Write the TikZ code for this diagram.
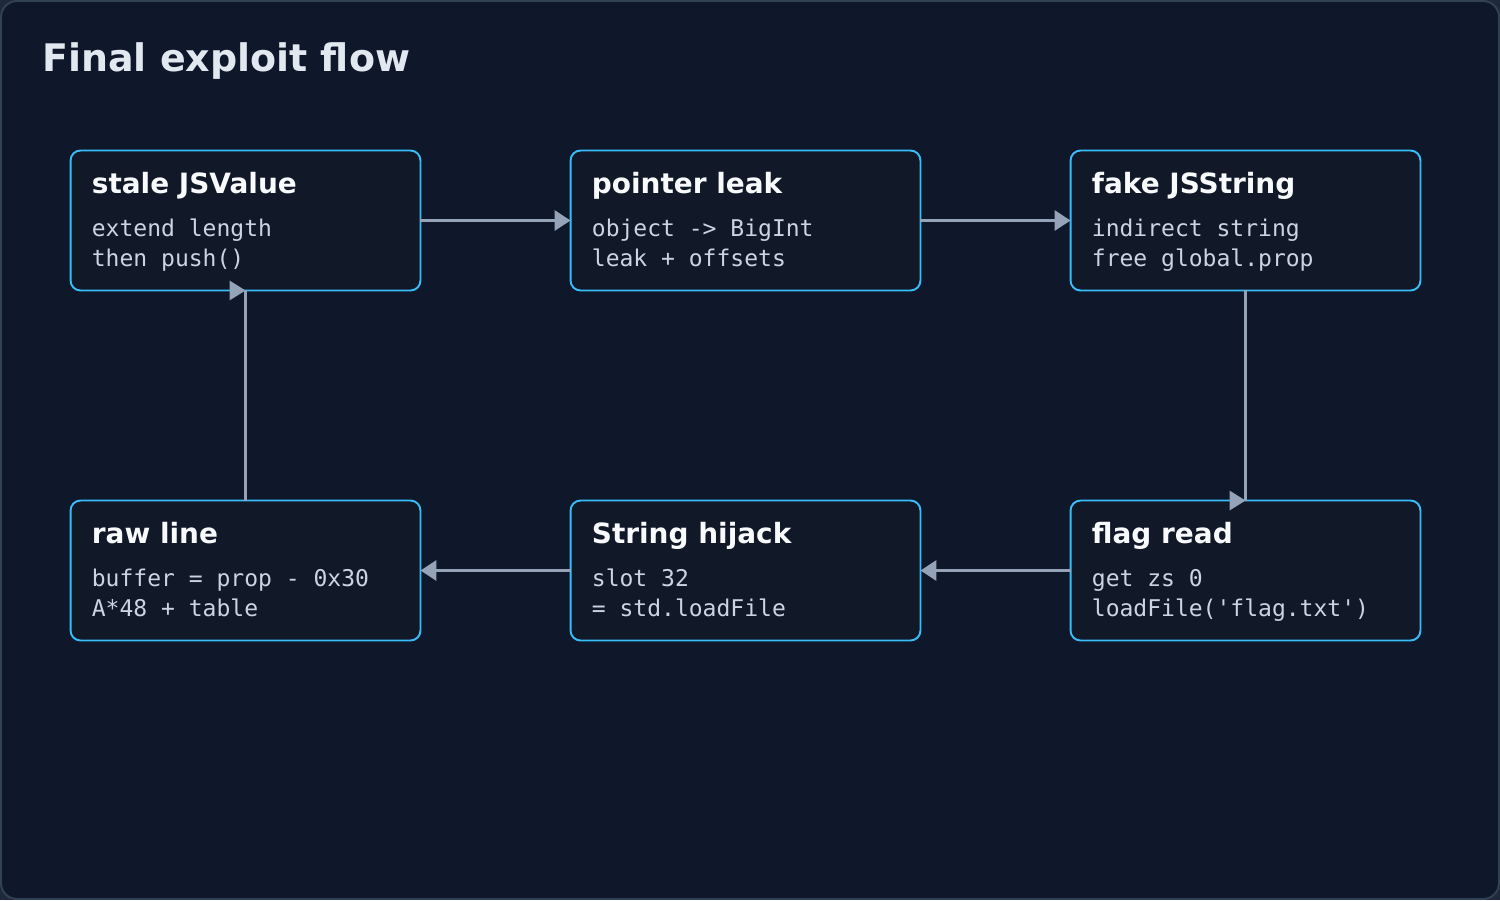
\documentclass[tikz,border=0pt]{standalone}
\usepackage{fontspec}
\setmainfont{DejaVu Sans}
\setmonofont{DejaVu Sans Mono}
\usetikzlibrary{arrows.meta,positioning}
\definecolor{pagebg}{HTML}{0F172A}
\definecolor{cornergray}{HTML}{1E293B}
\definecolor{framegray}{HTML}{334155}
\definecolor{boxfill}{HTML}{111827}
\definecolor{boxline}{HTML}{38BDF8}
\definecolor{flowgray}{HTML}{94A3B8}
\definecolor{headwhite}{HTML}{E2E8F0}
\definecolor{titlewhite}{HTML}{F8FAFC}
\definecolor{codegray}{HTML}{CBD5E1}
\tikzset{
  stepbox/.style={rounded corners=0.2cm, draw=boxline, fill=boxfill, line width=1.1pt,
                  minimum width=7cm, minimum height=2.8cm, inner sep=0pt, outer sep=0pt},
  steptitle/.style={anchor=base west, inner sep=0pt, text=titlewhite,
                  font=\fontsize{15.9}{19}\selectfont\bfseries},
  stepcode/.style={anchor=base west, inner sep=0pt, text=codegray,
                  font=\ttfamily\fontsize{13.1}{17}\selectfont},
  flow/.style={-{Triangle[length=0.32cm, width=0.4cm]}, line width=1.9pt, draw=flowgray},
  flowplain/.style={line width=1.9pt, draw=flowgray},
}
\begin{document}
\begin{tikzpicture}[x=0.02cm, y=-0.02cm]
        \useasboundingbox (0,0) rectangle (1500,900);
        \fill[cornergray] (0,0) rectangle (1500,900);
        \draw[framegray, fill=pagebg, line width=1.1pt, rounded corners=0.32cm] (1,1) rectangle (1499,899);
        \node[anchor=base west, inner sep=0pt, text=headwhite, font=\fontsize{21.6}{26}\selectfont\bfseries] (heading) at (42,71) {Final exploit flow};
        % upper row
        \node[stepbox] (b1) at (245.5,220.5) {};
        \node[stepbox] (b2) at (745.5,220.5) {};
        \node[stepbox] (b3) at (1245.5,220.5) {};
        % lower row
        \node[stepbox] (b4) at (245.5,570.5) {};
        \node[stepbox] (b5) at (745.5,570.5) {};
        \node[stepbox] (b6) at (1245.5,570.5) {};
        \node[steptitle] (b1t) at ([shift={(21,43)}]b1.north west) {stale JSValue};
        \node[stepcode] (b1a) at ([shift={(21,86)}]b1.north west) {extend length};
        \node[stepcode] (b1b) at ([shift={(21,116)}]b1.north west) {then push()};
        \node[steptitle] (b2t) at ([shift={(21,43)}]b2.north west) {pointer leak};
        \node[stepcode] (b2a) at ([shift={(21,86)}]b2.north west) {object -> BigInt};
        \node[stepcode] (b2b) at ([shift={(21,116)}]b2.north west) {leak + offsets};
        \node[steptitle] (b3t) at ([shift={(21,43)}]b3.north west) {fake JSString};
        \node[stepcode] (b3a) at ([shift={(21,86)}]b3.north west) {indirect string};
        \node[stepcode] (b3b) at ([shift={(21,116)}]b3.north west) {free global.prop};
        \node[steptitle] (b4t) at ([shift={(21,43)}]b4.north west) {raw line};
        \node[stepcode] (b4a) at ([shift={(21,86)}]b4.north west) {buffer = prop - 0x30};
        \node[stepcode] (b4b) at ([shift={(21,116)}]b4.north west) {A*48 + table};
        \node[steptitle] (b5t) at ([shift={(21,43)}]b5.north west) {String hijack};
        \node[stepcode] (b5a) at ([shift={(21,86)}]b5.north west) {slot 32};
        \node[stepcode] (b5b) at ([shift={(21,116)}]b5.north west) {= std.loadFile};
        \node[steptitle] (b6t) at ([shift={(21,43)}]b6.north west) {flag read};
        \node[stepcode] (b6a) at ([shift={(21,86)}]b6.north west) {get zs 0};
        \node[stepcode] (b6b) at ([shift={(21,116)}]b6.north west) {loadFile('flag.txt')};
        % connectors
        \draw[flow] (b1) -- (b2); \draw[flow] (b2) -- (b3);
        \draw[flow] (b6) -- (b5); \draw[flow] (b5) -- (b4);
        \draw[flowplain] (b3.south) -- (b6.north);
        \fill[flowgray] (b6.north) -- ++(-16,-10) -- ++(0,20) -- cycle;
        \draw[flowplain] (b4.north) -- (b1.south);
        \fill[flowgray] (b1.south) -- ++(-16,-10) -- ++(0,20) -- cycle;
      \end{tikzpicture}
\end{document}
